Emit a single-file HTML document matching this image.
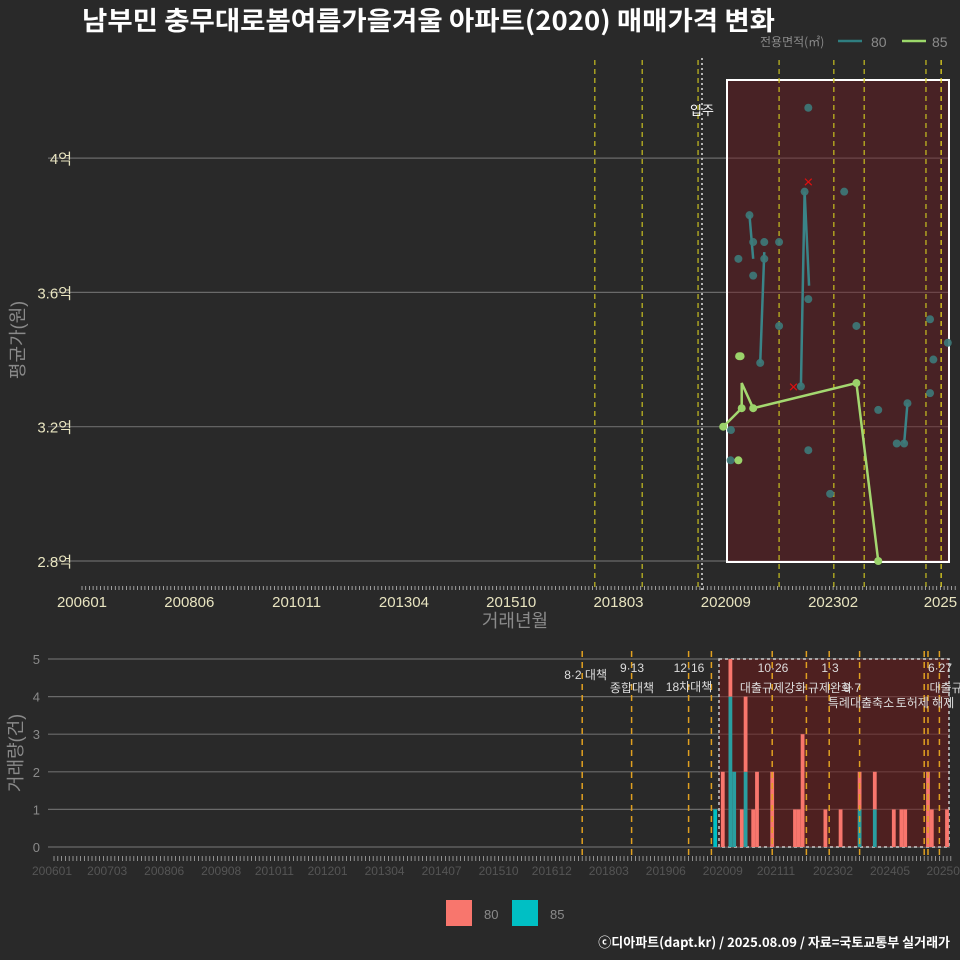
<!DOCTYPE html>
<html><head><meta charset="utf-8">
<style>
html,body{margin:0;padding:0;background:#292929;}
svg{display:block;font-family:"Liberation Sans","Noto Sans CJK KR",sans-serif;}
</style></head>
<body>
<svg id="chart" width="960" height="960" viewBox="0 0 960 960" xmlns="http://www.w3.org/2000/svg">
<rect x="0" y="0" width="960" height="960" fill="#292929"/>
<text x="82" y="30" fill="#ffffff" font-size="26" font-weight="bold" textLength="693" lengthAdjust="spacingAndGlyphs" style="font-family:'Noto Sans CJK KR',sans-serif">남부민 충무대로봄여름가을겨울 아파트(2020) 매매가격 변화</text>
<g>
<text x="760" y="46" fill="#8a8a8a" font-size="12" style="font-family:'Noto Sans CJK KR',sans-serif">전용면적(㎡)</text>
<line x1="838" y1="41" x2="862" y2="41" stroke="#2f7e80" stroke-width="2.5"/>
<text x="871" y="47" fill="#8a8a8a" font-size="14">80</text>
<line x1="902" y1="41" x2="926" y2="41" stroke="#9bd86a" stroke-width="2.5"/>
<text x="932" y="47" fill="#8a8a8a" font-size="14">85</text>
</g>
<g id="topPanel"></g>
<g id="botPanel"></g>
<g>
<rect x="446" y="900" width="26" height="26" fill="#f8766d"/>
<text x="484" y="919" fill="#8a8a8a" font-size="13">80</text>
<rect x="512" y="900" width="26" height="26" fill="#00bfc4"/>
<text x="550" y="919" fill="#8a8a8a" font-size="13">85</text>
</g>
<text x="950" y="947" text-anchor="end" fill="#ffffff" font-size="13" font-weight="bold" style="font-family:'Noto Sans CJK KR',sans-serif">ⓒ디아파트(dapt.kr) / 2025.08.09 / 자료=국토교통부 실거래가</text>
</svg>
<script>
// ---- data (months since 2006-01) ----
const xTickLabelsTop = ["200601","200806","201011","201304","201510","201803","202009","202302","2025"];
const xTickMonthsTop = [0,29,58,87,116,145,174,203,232];
const yTickValues = [2.8,3.2,3.6,4.0];
const yTickLabels = ["2.8억","3.2억","3.6억","4억"];
const pts80Month = [196.3,195.3,206,180.4,181.4,184.4,188.4,177.4,184.4,181.4,196.3,188.4,209.3,229.2,234,183.3,230.1,194.3,229.2,215.2,223.1,175.4,220.2,222.2,196.3,175.3,202.2];
const pts80Value = [4.15,3.90,3.90,3.83,3.75,3.75,3.75,3.70,3.70,3.65,3.58,3.50,3.50,3.52,3.45,3.39,3.40,3.32,3.30,3.25,3.27,3.19,3.15,3.15,3.13,3.10,3.00];
const line80Segments = [[[180.4,3.83],[181.4,3.70]],[[184.4,3.72],[183.3,3.39]],[[194.3,3.32],[195.3,3.90],[196.5,3.62]],[[223.1,3.27],[222.2,3.15]]];
const pts85Month = [173.3,178.3,181.4,209.3,215.2,177.6,178.0,177.4];
const pts85Value = [3.20,3.255,3.255,3.33,2.80,3.41,3.41,3.10];
const line85Month = [173.3,178.3,178.3,181.4,209.3,215.2];
const line85Value = [3.20,3.255,3.33,3.255,3.33,2.80];
const crossMonth = [196.3,192.3];
const crossValue = [3.93,3.32];
const topVlineMonths = [138.6,151.4,166.5,188.4,203.2,211.4,228.1,232.2];
const xTickLabelsBot = ["200601","200703","200806","200908","201011","201201","201304","201407","201510","201612","201803","201906","202009","202111","202302","202405","20250"];
const xTickMonthsBot = [0,14,29,44,58,72,87,102,117,131,146,161,176,190,205,220,234];
const barMonths = [174,176,178,179,181,182,184,185,189,195,196,197,203,207,212,216,221,223,224,230,231,235];
const bar85 = [1,0,4,2,0,2,0,0,0,0,0,0,0,0,1,1,0,0,0,0,0,0];
const bar80 = [0,2,1,0,1,2,1,2,2,1,1,3,1,1,1,1,1,1,1,2,1,1];
const botVlineMonths = [139,152,167,173,189,198,204,212,229,230,233];
const eventDates = ["8·2 대책","9·13","12·16","10·26","1·3","9·7","6·27"];
const eventNames = ["","종합대책","18차대책","대출규제강화","규제완화","특례대출축소","대출규"];

const NS="http://www.w3.org/2000/svg";
function mk(parent,tag,attrs,txt){const e=document.createElementNS(NS,tag);for(const k in attrs)e.setAttribute(k,attrs[k]);if(txt!==undefined)e.textContent=txt;parent.appendChild(e);return e;}
const tp=document.getElementById('topPanel'), bp=document.getElementById('botPanel');
const xT=m=>82+m*3.70, yT=v=>561-(v-2.8)/0.4*134.3;
const xB=m=>54+m*3.8, yB=v=>847-v*37.6;

yTickValues.forEach((v,i)=>{
  const l=mk(tp,'line',{x1:48,x2:950,y1:yT(v),y2:yT(v),stroke:'#6a6a6a','stroke-width':1.2});
  
  
  const t=mk(tp,'text',{x:72,y:yT(v)+6,'text-anchor':'end',fill:'#e8e4c0','font-size':15},yTickLabels[i]);
  
  
});
const hr=mk(tp,'rect',{x:727,y:80,width:222,height:482,fill:'#6e1a22','fill-opacity':0.45,stroke:'#ffffff','stroke-width':2});


topVlineMonths.forEach((m,i)=>{
  const l=mk(tp,'line',{x1:xT(m),x2:xT(m),y1:60,y2:590,stroke:(i==topVlineMonths.length-1?'#f0e020':'#c8c020'),'stroke-width':1.2,'stroke-dasharray':'5,4'});
  
  
});
const occ=mk(tp,'line',{x1:702,x2:702,y1:58,y2:590,stroke:'#e0e0e0','stroke-width':1.5,'stroke-dasharray':'2,3'});


const occT=mk(tp,'text',{x:702,y:115,'text-anchor':'middle',fill:'#ffffff','font-size':13},'입주');


line80Segments.forEach(seg=>{
  const p=mk(tp,'polyline',{points:seg.map(d=>xT(d[0])+','+yT(d[1])).join(' '),fill:'none',stroke:'#3a8488','stroke-width':2.5});
  
  
});
pts80Month.forEach((m,i)=>{
  const c=mk(tp,'circle',{cx:xT(m),cy:yT(pts80Value[i]),r:4,fill:'#3d7a7a','fill-opacity':0.9});
  
  
});
const l85=mk(tp,'polyline',{points:line85Month.map((m,i)=>xT(m)+','+yT(line85Value[i])).join(' '),fill:'none',stroke:'#a4d870','stroke-width':2.5});


pts85Month.forEach((m,i)=>{
  const c=mk(tp,'circle',{cx:xT(m),cy:yT(pts85Value[i]),r:4,fill:'#9bd36a'});
  
  
});
crossMonth.forEach((m,i)=>{
  const t=mk(tp,'text',{x:xT(m),y:yT(crossValue[i])+6,'text-anchor':'middle',fill:'#e01010','font-size':17},'×');
  
  
});
for(let m=0;m<=236;m++){
  const l=mk(tp,'line',{x1:xT(m),x2:xT(m),y1:586,y2:590,stroke:'#bbbbbb','stroke-width':0.8});
  
  
}
xTickLabelsTop.forEach((s,i)=>{
  const t=mk(tp,'text',{x:xT(xTickMonthsTop[i]),y:607,'text-anchor':'middle',fill:'#e8e4c0','font-size':15},s);
  
  
});
const xt=mk(tp,'text',{x:515,y:627,'text-anchor':'middle',fill:'#8a8a8a','font-size':18},'거래년월');


const yt=mk(tp,'text',{x:0,y:0,'text-anchor':'middle',fill:'#8a8a8a','font-size':18,transform:'translate(24,340) rotate(-90)'},'평균가(원)');



for(let v=0;v<=5;v++){
  const l=mk(bp,'line',{x1:48,x2:950,y1:yB(v),y2:yB(v),stroke:'#6a6a6a','stroke-width':1.2});
  
  
  const t=mk(bp,'text',{x:40,y:yB(v)+5,'text-anchor':'end',fill:'#8a8a8a','font-size':13},String(v));
  
  
}
const br=mk(bp,'rect',{x:719,y:659,width:230,height:188,fill:'#6e1a1a','fill-opacity':0.55,stroke:'#cccccc','stroke-width':1.5,'stroke-dasharray':'3,3'});


barMonths.forEach((m,i)=>{
  const x=xB(m)-1.9;
  if(bar85[i]>0){
    const r=mk(bp,'rect',{x:x,y:yB(bar85[i]),width:3.8,height:bar85[i]*37.6,fill:(m<175?'#00bfc4':'#2a9ea0')});
    
    
  }
  if(bar80[i]>0){
    const r=mk(bp,'rect',{x:x,y:yB(bar85[i]+bar80[i]),width:3.8,height:bar80[i]*37.6,fill:'#f8766d'});
    
    
  }
});
botVlineMonths.forEach(m=>{
  const l=mk(bp,'line',{x1:xB(m),x2:xB(m),y1:651,y2:858,stroke:'#e0a020','stroke-width':1.5,'stroke-dasharray':'6,5'});
  
  
});
const ev=[[582,679,0,'end'],[632,672,1,'middle'],[689,672,2,'middle'],[773,672,3,'middle'],[830,672,4,'middle'],[861,692,5,'end'],[940,672,6,'middle']];
ev.forEach(e=>{
  const t=mk(bp,'text',{x:e[0]+(e[2]==0?25:0),y:e[1],'text-anchor':e[3],fill:'#dddddd','font-size':12},eventDates[e[2]]);
  
  
});
[[632,692,1],[689,691,2],[773,692,3],[830,692,4],[861,707,5],[946,692,6]].forEach(e=>{
  const t=mk(bp,'text',{x:e[0],y:e[1],'text-anchor':'middle',fill:'#dddddd','font-size':12},eventNames[e[2]]);
  
  
});
const tt=mk(bp,'text',{x:925,y:707,'text-anchor':'middle',fill:'#dddddd','font-size':12},'토허제 해제');


for(let m=0;m<=236;m++){
  const l=mk(bp,'line',{x1:xB(m),x2:xB(m),y1:856,y2:861,stroke:'#aaaaaa','stroke-width':0.8});
  
  
}
xTickLabelsBot.forEach((s,i)=>{
  const t=mk(bp,'text',{x:xB(xTickMonthsBot[i])-(i==0?2:0),y:875,'text-anchor':'middle',fill:'#555555','font-size':12},s);
  
  
});
const yt2=mk(bp,'text',{x:0,y:0,'text-anchor':'middle',fill:'#8a8a8a','font-size':18,transform:'translate(22,753) rotate(-90)'},'거래량(건)');


</script>
</body></html>
